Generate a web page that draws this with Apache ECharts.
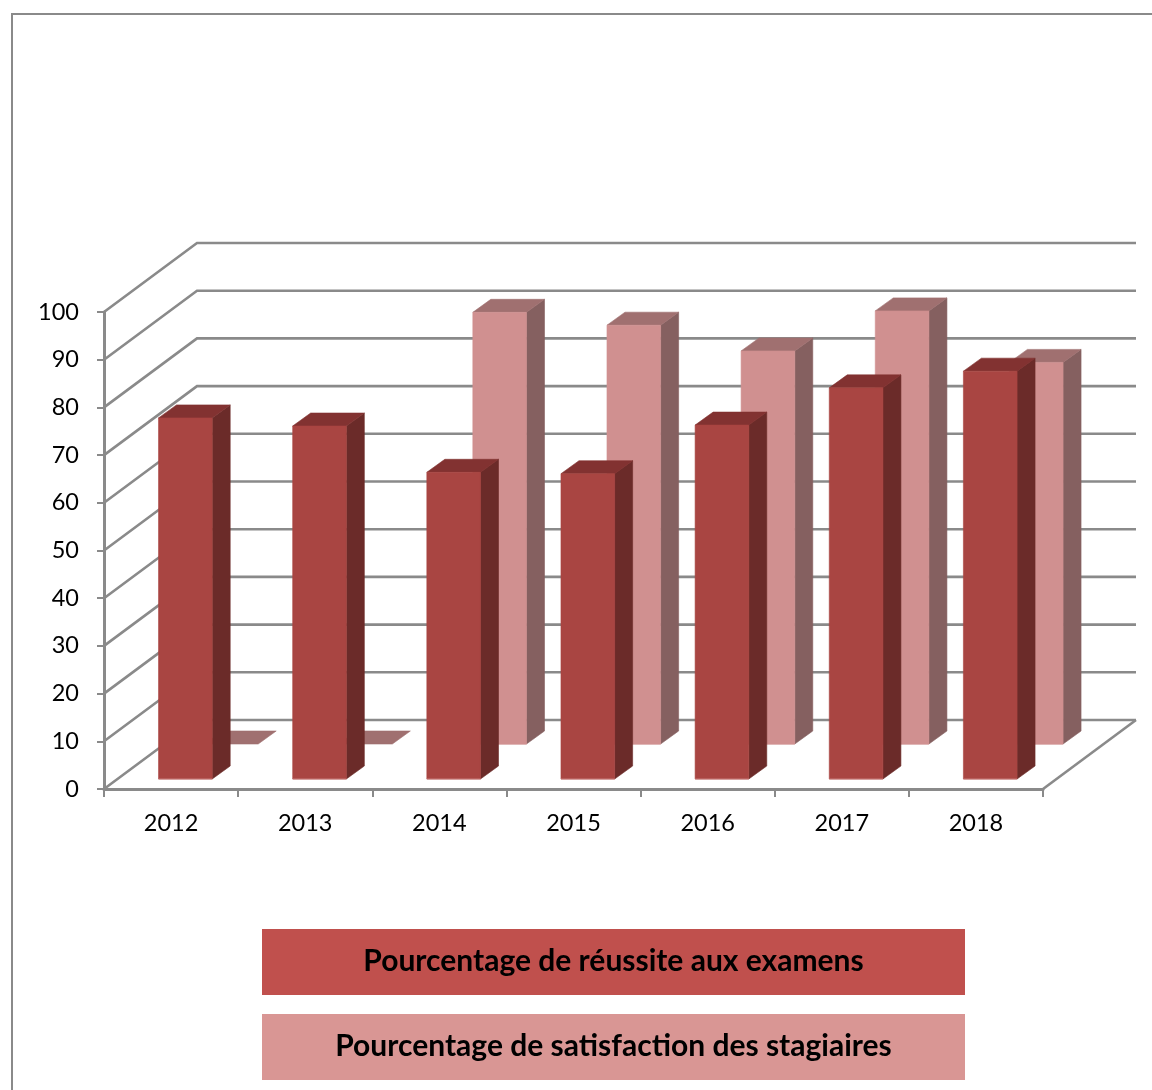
<!DOCTYPE html>
<html>
<head>
<meta charset="utf-8">
<style>html,body{margin:0;padding:0;background:#fff}#c{width:1152px;height:1090px}</style>
<script src="https://cdn.jsdelivr.net/npm/echarts@6/dist/echarts.min.js"></script>
</head>
<body>
<div id="c"></div>
<script>
var years = ['2012','2013','2014','2015','2016','2017','2018'];
var reussite = [75.7, 74, 64.3, 64, 74.2, 82, 85.5];
var satisfaction = [0, 0, 90.5, 87.8, 82.4, 90.8, 80];
var ticks = [0,10,20,30,40,50,60,70,80,90,100];
var nameReussite = 'Pourcentage de réussite aux examens';
var nameSatisfaction = 'Pourcentage de satisfaction des stagiaires';

var FONT = 'Lato, "Open Sans", sans-serif';
var LINE = '#8a8a8a';
var DEPTH_X = 93, DEPTH_Y = -69;
var BAR_W = 0.4, SIDE_X = 18, SIDE_Y = -13;

function barRenderer(shiftX, shiftY, colors) {
  return function (params, api) {
    var idx = api.value(0), val = api.value(1);
    var top = api.coord([idx, val]), base = api.coord([idx, 0]);
    var w = api.size([1, 0])[0] * BAR_W;
    var x0 = top[0] + shiftX - w / 2, x1 = x0 + w;
    var yT = top[1] + shiftY, yB = base[1] + shiftY;
    var kids = [];
    function poly(points, fill) {
      kids.push({ type: 'polygon', shape: { points: points },
        style: { fill: fill, stroke: fill, lineWidth: 0.6 } });
    }
    if (val > 0) {
      poly([[x1,yT],[x1+SIDE_X,yT+SIDE_Y],[x1+SIDE_X,yB+SIDE_Y],[x1,yB]], colors.side);
    }
    poly([[x0,yT],[x0+SIDE_X,yT+SIDE_Y],[x1+SIDE_X,yT+SIDE_Y],[x1,yT]], colors.top);
    if (val > 0) {
      poly([[x0,yT],[x1,yT],[x1,yB],[x0,yB]], colors.front);
      kids.push({ type: 'line', shape: { x1: x0, y1: yB, x2: x1, y2: yB },
        style: { stroke: colors.edge, lineWidth: 1 } });
    }
    return { type: 'group', children: kids };
  };
}

function wallRenderer(params, api) {
  var v = api.value(0);
  var band = api.size([1, 0])[0];
  var a = api.coord([0, v]), b = api.coord([years.length - 1, v]);
  var xL = a[0] - band / 2, xR = b[0] + band / 2 + DEPTH_X;
  var y = a[1];
  var kids = [{
    type: 'polyline',
    shape: { points: [[xL, y], [xL + DEPTH_X, y + DEPTH_Y], [xR, y + DEPTH_Y]] },
    style: { stroke: LINE, lineWidth: 2.6, fill: null, lineJoin: 'miter' }
  }];
  if (v === 0) {
    kids.push({
      type: 'polyline',
      shape: { points: [[xR - DEPTH_X, y], [xR, y + DEPTH_Y]] },
      style: { stroke: LINE, lineWidth: 2.6, fill: null }
    });
  }
  return { type: 'group', children: kids };
}

function legendBox(y, color, label) {
  return [
    { type: 'rect', left: 262, top: y, shape: { width: 703, height: 66 }, style: { fill: color } },
    { type: 'text', x: 613.5, y: y + 32, style: { text: label, fill: '#000', font: 'bold 30px ' + FONT, textAlign: 'center', textVerticalAlign: 'middle' } }
  ];
}

var chart = echarts.init(document.getElementById('c'), null, { renderer: 'canvas' });
chart.setOption({
  animation: false,
  backgroundColor: '#fff',
  grid: { left: 104, top: 312, width: 939, height: 477, containLabel: false },
  xAxis: {
    type: 'category', data: years, boundaryGap: true,
    axisLine: { show: true, lineStyle: { color: LINE, width: 3 } },
    axisTick: { show: true, alignWithLabel: false, length: 8, lineStyle: { color: LINE, width: 2 } },
    axisLabel: { color: '#000', fontFamily: FONT, fontSize: 23.5, margin: 22 },
    splitLine: { show: false }
  },
  yAxis: {
    type: 'value', min: 0, max: 100, interval: 10,
    axisLine: { show: true, lineStyle: { color: LINE, width: 3 } },
    axisTick: { show: true, length: 7, lineStyle: { color: LINE, width: 2 } },
    axisLabel: { color: '#000', fontFamily: FONT, fontSize: 23.5, margin: 25, padding: [7, 0, 0, 0] },
    splitLine: { show: false }
  },
  series: [
    { name: 'walls', type: 'custom', coordinateSystem: 'cartesian2d', renderItem: wallRenderer,
      data: ticks.map(function (t) { return [t]; }), encode: { x: -1, y: 0 }, silent: true, z: 1 },
    { name: nameSatisfaction, type: 'custom', coordinateSystem: 'cartesian2d',
      renderItem: barRenderer(60.3, -45, { front: '#d09090', edge: '#d09090', side: '#856060', top: '#a07070' }),
      data: satisfaction.map(function (v, i) { return [i, v]; }), encode: { x: 0, y: 1 }, z: 3 },
    { name: nameReussite, type: 'custom', coordinateSystem: 'cartesian2d',
      renderItem: barRenderer(14.3, -10, { front: '#a94542', edge: '#c87a78', side: '#6b2b29', top: '#823231' }),
      data: reussite.map(function (v, i) { return [i, v]; }), encode: { x: 0, y: 1 }, z: 4 }
  ],
  graphic: [
    { type: 'polyline', shape: { points: [[1152, 14], [12, 14], [12, 1090]] },
      style: { stroke: LINE, lineWidth: 2, fill: null } }
  ].concat(legendBox(929, '#c0504d', nameReussite), legendBox(1014, '#d99694', nameSatisfaction))
});
</script>
</body>
</html>
